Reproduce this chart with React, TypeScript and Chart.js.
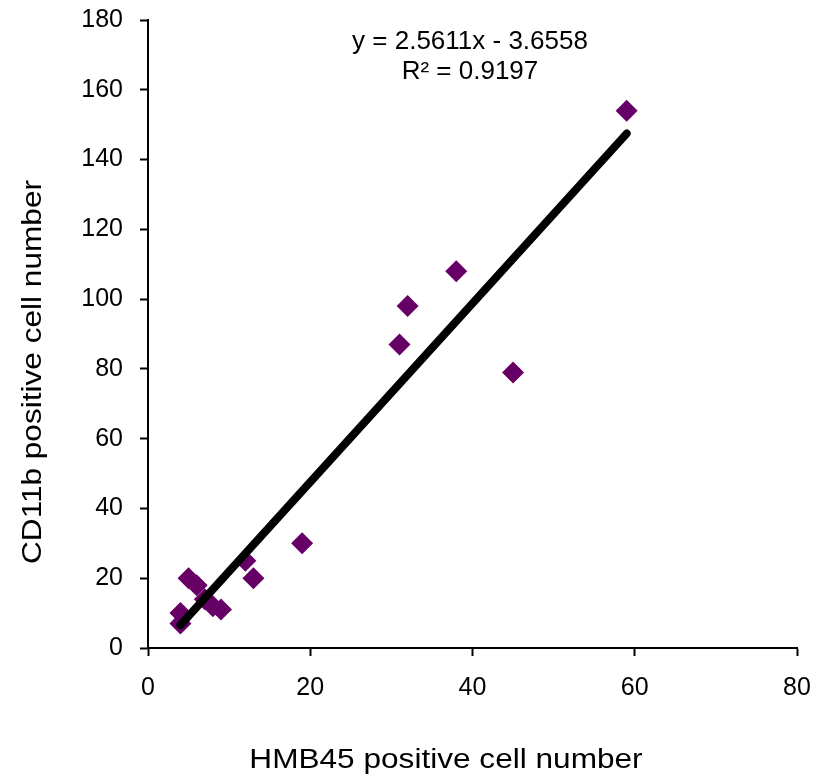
import React, { useEffect, useRef } from "react";
import { Chart, registerables } from "chart.js";

Chart.register(...registerables);

// ---- Data ----
const hmb45: number[] = [4, 4, 5, 6, 7, 8, 9, 12, 13, 19, 31, 32, 38, 45, 59];
const cd11b: number[] = [7, 10, 20, 18, 14, 12, 11, 25, 20, 30, 87, 98, 108, 79, 154];
const xTickValues: number[] = [0, 20, 40, 60, 80];
const yTickValues: number[] = [0, 20, 40, 60, 80, 100, 120, 140, 160, 180];
const fitSlope = 2.5611;
const fitIntercept = -3.6558;
const fitR2 = 0.9197;
const fitXRange: number[] = [4, 59];
const xTitle = "HMB45 positive cell number";
const yTitle = "CD11b positive cell number";
const eqText = `y = ${fitSlope}x - ${Math.abs(fitIntercept)}`;
const r2Text = `R² = ${fitR2}`;

const FONT = '"Liberation Sans", Arial, sans-serif';

const textPlugin = {
  id: "extraText",
  afterDraw(chart: any) {
    const ctx = chart.ctx as CanvasRenderingContext2D;
    ctx.save();
    ctx.fillStyle = "#000";
    ctx.textAlign = "center";
    ctx.textBaseline = "alphabetic";
    ctx.font = `26px ${FONT}`;
    ctx.fillText(eqText, 470, 49);
    ctx.fillText(r2Text, 470, 79);

    ctx.font = `27px ${FONT}`;
    ctx.save();
    ctx.translate(446, 768);
    ctx.scale(1.17, 1);
    ctx.fillText(xTitle, 0, 0);
    ctx.restore();

    ctx.save();
    ctx.translate(41, 372);
    ctx.rotate(-Math.PI / 2);
    ctx.scale(1.17, 1);
    ctx.fillText(yTitle, 0, 0);
    ctx.restore();
    ctx.restore();
  },
};

export default function App() {
  const ref = useRef<HTMLCanvasElement | null>(null);
  useEffect(() => {
    if (!ref.current) return;
    const points = hmb45.map((x, i) => ({ x, y: cd11b[i] }));
    const fit = fitXRange.map((x) => ({ x, y: fitSlope * x + fitIntercept }));
    const tickFont = { size: 25, family: FONT };
    const chart = new Chart(ref.current, {
      type: "scatter",
      data: {
        datasets: [
          {
            type: "line",
            data: fit,
            borderColor: "#000000",
            borderWidth: 8,
            borderCapStyle: "round",
            pointRadius: 0,
            showLine: true,
            fill: false,
            order: 0,
          } as any,
          {
            type: "scatter",
            data: points,
            pointStyle: "rectRot",
            pointRadius: 11,
            pointBackgroundColor: "#660066",
            pointBorderColor: "#660066",
            pointBorderWidth: 0,
            order: 1,
          } as any,
        ],
      },
      options: {
        animation: false,
        responsive: false,
        devicePixelRatio: 1,
        layout: { padding: { left: 0, right: 20, top: 20, bottom: 0 } },
        plugins: { legend: { display: false }, tooltip: { enabled: false } },
        scales: {
          x: {
            type: "linear",
            min: 0,
            max: 80,
            afterBuildTicks: (s: any) => {
              s.ticks = xTickValues.map((v) => ({ value: v }));
            },
            afterFit: (s: any) => {
              s.height = 135;
              s.paddingLeft = 0;
              s.paddingRight = 0;
            },
            ticks: { font: tickFont, color: "#000", padding: 17, maxRotation: 0 },
            grid: {
              drawOnChartArea: false,
              drawTicks: true,
              tickLength: 8,
              tickColor: "#000",
              tickWidth: 2,
            },
            border: { display: true, color: "#000", width: 2 },
          },
          y: {
            type: "linear",
            min: 0,
            max: 180,
            afterBuildTicks: (s: any) => {
              s.ticks = yTickValues.map((v) => ({ value: v }));
            },
            afterFit: (s: any) => {
              s.width = 148;
              s.paddingTop = 0;
              s.paddingBottom = 0;
            },
            ticks: { font: tickFont, color: "#000", padding: 17 },
            grid: {
              drawOnChartArea: false,
              drawTicks: true,
              tickLength: 8,
              tickColor: "#000",
              tickWidth: 2,
            },
            border: { display: true, color: "#000", width: 2 },
          },
        },
      },
      plugins: [textPlugin],
    });
    return () => chart.destroy();
  }, []);
  return (
    <div style={{ position: "fixed", left: 0, top: 0, width: 817, height: 783, background: "#fff" }}>
      <canvas ref={ref} width={817} height={783} style={{ display: "block" }} />
    </div>
  );
}
